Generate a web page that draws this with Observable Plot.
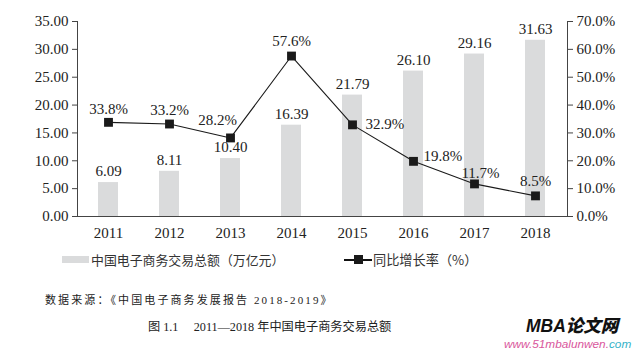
<!DOCTYPE html>
<html>
<head>
<meta charset="utf-8">
<script src="https://cdn.jsdelivr.net/npm/d3@7"></script>
<script src="https://cdn.jsdelivr.net/npm/@observablehq/plot@0.6"></script>
<style>
  html, body { margin: 0; padding: 0; background: #fff; }
  #wrap { position: relative; width: 638px; height: 354px; overflow: hidden; background: #fff; }
  #chart { position: absolute; left: 0; top: 0; }
  .abs { position: absolute; white-space: nowrap; }
  .cjk { font-family: "Noto Sans CJK SC", "Noto Sans", sans-serif; }
  .mix { font-family: "Liberation Serif", "Noto Sans CJK SC", serif; }
</style>
</head>
<body>
<div id="wrap">
  <div id="chart"></div>
  <div class="abs" style="left:62px; top:256px; width:27px; height:7px; background:#dadbdc;"></div>
  <div class="abs cjk" id="leg1" style="left:91px; top:250px; font-size:12.9px; line-height:20px; color:#333;"></div>
  <div class="abs" style="left:344px; top:259px; width:28px; height:1.5px; background:#111;"></div>
  <div class="abs" style="left:354px; top:255px; width:9px; height:9px; background:#1a1a1a;"></div>
  <div class="abs cjk" id="leg2" style="left:373px; top:250px; font-size:13.2px; line-height:20px; color:#333;"></div>
  <div class="abs mix" id="source" style="left:45px; top:292px; font-size:11px; line-height:16px; letter-spacing:2.1px; color:#222;"></div>
  <div class="abs mix" id="title" style="left:148px; top:319px; font-size:12.2px; line-height:16px; letter-spacing:0px; color:#222;"></div>
  <div class="abs" style="left:526px; top:315px; font-family:'Liberation Sans', sans-serif; font-weight:bold; font-style:italic; font-size:17.5px; line-height:20px; color:#111;">MBA<span style="font-family:'Noto Sans CJK SC'; font-weight:900;">论文网</span></div>
  <div class="abs" style="left:504px; top:337px; font-family:'Liberation Sans', sans-serif; font-style:italic; font-size:11.8px; line-height:14px; color:#d9569c;">www.51mbalunwen.<span style="color:#35b3c9;">com</span></div>
</div>
<script>
// ---- data ----
const years = ["2011", "2012", "2013", "2014", "2015", "2016", "2017", "2018"];
const volume = [6.09, 8.11, 10.40, 16.39, 21.79, 26.10, 29.16, 31.63];      // 万亿元
const growth = [33.8, 33.2, 28.2, 57.6, 32.9, 19.8, 11.7, 7.4];             // plotted position (%)
const growthLabels = ["33.8%", "33.2%", "28.2%", "57.6%", "32.9%", "19.8%", "11.7%", "8.5%"];
const leftTicks = [0, 5, 10, 15, 20, 25, 30, 35];
const rightTickLabels = ["0.0%", "10.0%", "20.0%", "30.0%", "40.0%", "50.0%", "60.0%", "70.0%"];
const seriesNames = ["中国电子商务交易总额（万亿元）", "同比增长率（%）"];
const sourceText = "数据来源：《中国电子商务发展报告 2018-2019》";
const figureTitle = "图 1.1\u3000 2011—2018 年中国电子商务交易总额";

document.getElementById("leg1").textContent = seriesNames[0];
document.getElementById("leg2").textContent = seriesNames[1];
document.getElementById("source").textContent = sourceText;
document.getElementById("title").textContent = figureTitle;

const rows = years.map((y, i) => ({year: y, volume: volume[i], growth: growth[i], glabel: growthLabels[i], i}));
// growth (0–70%) drawn on the same y scale as volume (0–35)
const g2y = g => g / 2;

// label placement for growth labels (layout, not data): [dx, dy, anchor]
const gLabelPlace = [
  [0, -13, "middle"], [0, -14, "middle"], [-13, -18, "middle"], [0, -15, "middle"],
  [13, -1, "start"], [10, -5, "start"], [6, -11, "middle"], [0, -15, "middle"]
];

const chart = Plot.plot({
  width: 638,
  height: 245,
  marginLeft: 77,
  marginRight: 71,
  marginTop: 21,
  marginBottom: 29,
  style: {fontFamily: "'Liberation Serif', 'Times New Roman', serif", fontSize: "15px", color: "#222", background: "#fff"},
  x: {domain: years, paddingInner: 0.67, paddingOuter: 0.335, label: null},
  y: {domain: [0, 35], label: null},
  marks: [
    Plot.barY(rows, {x: "year", y: "volume", fill: "#dadbdc"}),
    Plot.ruleY([0], {stroke: "#444"}),
    Plot.frame({anchor: "left", stroke: "#444"}),
    Plot.frame({anchor: "right", stroke: "#444"}),
    Plot.axisY({ticks: leftTicks, tickFormat: d => d.toFixed(2), tickSize: 5, tickPadding: 4, anchor: "left", stroke: "#444"}),
    Plot.axisY({ticks: leftTicks, tickFormat: d => rightTickLabels[leftTicks.indexOf(d)], tickSize: 5, tickPadding: 4, anchor: "right", stroke: "#444"}),
    Plot.axisX({tickSize: 0, tickPadding: 11}),
    Plot.text(rows, {x: "year", y: "volume", text: d => d.volume.toFixed(2), dy: -11, fill: "#222"}),
    Plot.line(rows, {x: "year", y: d => g2y(d.growth), stroke: "#1a1a1a", strokeWidth: 1.1, curve: "linear"}),
    Plot.dot(rows, {x: "year", y: d => g2y(d.growth), symbol: "square", r: 5, fill: "#1a1a1a", stroke: "none"}),
    ...rows.map((d, i) => Plot.text([d], {
      x: "year", y: r => g2y(r.growth), text: "glabel",
      dx: gLabelPlace[i][0], dy: gLabelPlace[i][1], textAnchor: gLabelPlace[i][2], fill: "#222"
    }))
  ]
});
document.getElementById("chart").appendChild(chart);
</script>
</body>
</html>
